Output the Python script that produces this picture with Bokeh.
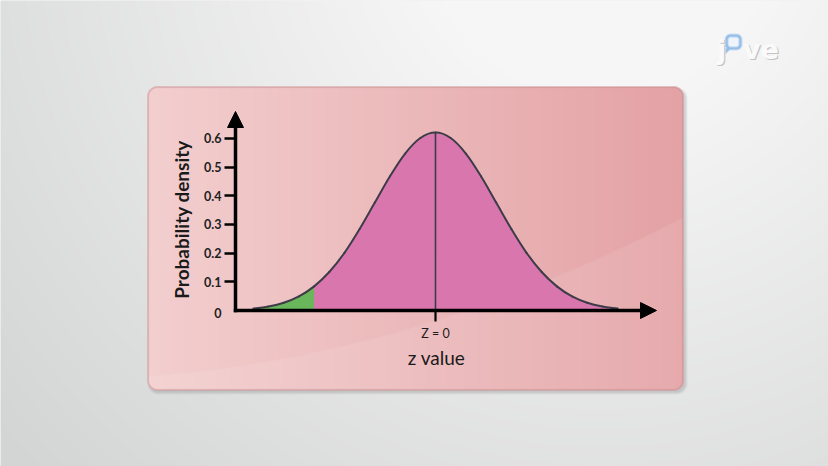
import numpy as np
from bokeh.plotting import figure
from bokeh.models import Range1d, FixedTicker, Arrow, NormalHead
from bokeh.core.properties import value
from bokeh.embed import file_html
from bokeh.resources import INLINE

# ---- data -------------------------------------------------------------
z_values = [-3.0, -2.75, -2.5, -2.25, -2.0, -1.75, -1.5, -1.25, -1.0, -0.75, -0.5, -0.25,
            0.0, 0.25, 0.5, 0.75, 1.0, 1.25, 1.5, 1.75, 2.0, 2.25, 2.5, 2.75, 3.0]
density = [0.007, 0.014, 0.027, 0.049, 0.084, 0.134, 0.201, 0.284, 0.376, 0.468, 0.547, 0.601,
           0.620, 0.601, 0.547, 0.468, 0.376, 0.284, 0.201, 0.134, 0.084, 0.049, 0.027, 0.014, 0.007]
tail_end = -2.0          # the shaded left tail runs up to this z
mean_z = 0.0

y_ticks = [0.0, 0.1, 0.2, 0.3, 0.4, 0.5, 0.6]
y_tick_labels = ["0", "0.1", "0.2", "0.3", "0.4", "0.5", "0.6"]
x_ticks = [0.0]
x_tick_labels = ["Z = 0"]
x_title = "z value"
y_title = "Probability density"

# ---- canvas <-> data mapping -----------------------------------------
W, H = 828, 466
ZERO_X_PX, PX_PER_Z = 435.0, 60.7
ZERO_Y_PX, PX_PER_D = 310.0, 287.0


def px2x(px):
    return (px - ZERO_X_PX) / PX_PER_Z


def px2y(py):
    return (ZERO_Y_PX - py) / PX_PER_D


x_range = Range1d(px2x(0), px2x(W))
y_range = Range1d(px2y(H), px2y(0))

# ---- backdrop: grey gradient + pink rounded card -----------------------
yy, xx = np.mgrid[0:H, 0:W].astype(float) + 0.5


def rrect_sd(x0, y0, x1, y1, r):
    cx, cy = (x0 + x1) / 2, (y0 + y1) / 2
    hx, hy = (x1 - x0) / 2 - r, (y1 - y0) / 2 - r
    qx, qy = np.abs(xx - cx) - hx, np.abs(yy - cy) - hy
    outside = np.hypot(np.maximum(qx, 0), np.maximum(qy, 0))
    return outside + np.minimum(np.maximum(qx, qy), 0) - r


def mix(a, b, t):
    t = t[..., None]
    return a * (1 - t) + b * t


d = np.hypot(xx - 600, yy + 80)
t = np.clip((d - 180) / 620, 0, 1)
rgb = mix(np.array([246.0, 246, 246]), np.array([211.0, 212, 212]), t)

# soft shadow under the card
sd_s = rrect_sd(148, 88, 686, 393, 10)
a_s = np.clip((1.5 - sd_s) / 3.0, 0, 1) * 0.35
rgb = mix(rgb, np.array([140.0, 140, 140]), a_s)

# card body with a left-to-right gradient
sd_c = rrect_sd(147, 86, 683, 390, 10)
tc = np.clip((xx - 147) / 536, 0, 1)
card = mix(np.full((H, W, 3), 0.0) + np.array([243.0, 207, 207]),
           np.array([228.0, 162, 165]), tc)
# faint glossy sweep over the lower part
gloss_x = np.array([147.0, 317, 528, 660, 690])
gloss_y = np.array([378.0, 343, 293, 233, 205])
coef = np.polyfit(gloss_x, gloss_y, 2)
gy = np.polyval(coef, xx)
g = np.clip((yy - gy) / 1.5, 0, 1) * 0.09
card = mix(card, np.array([255.0, 255, 255]), g)
a_c = np.clip(0.5 - sd_c, 0, 1)
rgb = mix(rgb, card, a_c)
a_b = np.clip(0.5 - sd_c, 0, 1) * np.clip(sd_c + 1.6, 0, 1) * 0.8
rgb = mix(rgb, np.array([198.0, 138, 142]), a_b)

# speech-bubble "o" of the logo: pale inside, blue rim, small tail
sd_o = rrect_sd(725, 34, 741, 49, 5)
inside = np.clip(0.5 - sd_o, 0, 1)
rgb = mix(rgb, np.array([238.0, 244, 251]), inside * 0.9)
rim = np.clip(2.0 - np.abs(sd_o + 1.1), 0, 1)
tail = ((xx > 725) & (xx < 730) & (yy > 48) & (yy < 53.5)
        & ((xx - 725) < (53.5 - yy) * 0.9)).astype(float)
rgb = mix(rgb, np.array([140.0, 185, 232]), np.maximum(rim, tail) * 0.9)

rgba = np.dstack([np.clip(rgb, 0, 255).astype(np.uint8),
                  np.full((H, W), 255, dtype=np.uint8)])
backdrop = rgba.view(np.uint32).reshape(H, W)[::-1].copy()

# ---- figure ------------------------------------------------------------
p = figure(width=W, height=H, x_range=x_range, y_range=y_range,
           output_backend="svg", toolbar_location=None, min_border=0,
           outline_line_color=None)
p.grid.visible = False
p.background_fill_color = "#e6e6e6"
p.border_fill_color = "#e6e6e6"

p.image_rgba(image=[backdrop], x=x_range.start, y=y_range.start,
             dw=x_range.end - x_range.start, dh=y_range.end - y_range.start)

# logo letters, light with a grey edge
logo_font = value("DejaVu Sans")
for txt, lx in (("j", 716.5), ("ve", 742.5)):
    for dx, dy, col in ((1.2, 1.2, "#c4c4c4"), (0, 0, "#fafafa")):
        p.text(x=[px2x(lx + dx)], y=[px2y(48.5 + dy)], text=[txt], text_font=logo_font,
               text_font_size="27px", text_font_style="bold", text_color=col,
               text_baseline="alphabetic")

# ---- distribution ------------------------------------------------------
z = np.array(z_values)
dens = np.array(density)
p.varea(x=z, y1=np.zeros_like(dens), y2=dens, fill_color="#d976ae")
tail_mask = z <= tail_end
p.varea(x=z[tail_mask], y1=np.zeros(tail_mask.sum()), y2=dens[tail_mask],
        fill_color="#6ab65a")

# smooth outline through the readings (Catmull-Rom as cubic Bezier pieces)
zp = np.concatenate([[2 * z[0] - z[1]], z, [2 * z[-1] - z[-2]]])
dp = np.concatenate([[2 * dens[0] - dens[1]], dens, [2 * dens[-1] - dens[-2]]])
i = np.arange(1, len(zp) - 2)
p.bezier(x0=zp[i], y0=dp[i], x1=zp[i + 1], y1=dp[i + 1],
         cx0=zp[i] + (zp[i + 1] - zp[i - 1]) / 6, cy0=dp[i] + (dp[i + 1] - dp[i - 1]) / 6,
         cx1=zp[i + 1] - (zp[i + 2] - zp[i]) / 6, cy1=dp[i + 1] - (dp[i + 2] - dp[i]) / 6,
         line_color="#3d3c48", line_width=2, line_cap="round")

peak = dens[np.argmin(np.abs(z - mean_z))]
p.segment(x0=[mean_z], y0=[0], x1=[mean_z], y1=[peak], line_color="#3d3c48", line_width=1.6)

# ---- axes --------------------------------------------------------------
axis_z = px2x(235)
label_font = value("Lato")

yax = p.yaxis[0]
yax.fixed_location = axis_z
yax.ticker = FixedTicker(ticks=y_ticks[1:])
yax.major_label_overrides = {t: s for t, s in zip(y_ticks[1:], y_tick_labels[1:])}
yax.axis_line_color = None
yax.major_tick_out = 11
yax.major_tick_in = 0
yax.major_tick_line_width = 2.5
yax.major_tick_line_color = "black"
yax.minor_tick_line_color = None
yax.major_label_standoff = 3
yax.major_label_text_font = "Lato"
yax.major_label_text_font_size = "12.5px"
yax.major_label_text_font_style = "bold"
yax.major_label_text_color = "#1e1e1e"

xax = p.xaxis[0]
xax.fixed_location = 0
xax.ticker = FixedTicker(ticks=x_ticks)
xax.major_label_overrides = {t: s for t, s in zip(x_ticks, x_tick_labels)}
xax.axis_line_color = None
xax.major_tick_out = 11
xax.major_tick_in = 0
xax.major_tick_line_width = 2.2
xax.major_tick_line_color = "black"
xax.minor_tick_line_color = None
xax.major_label_standoff = 4
xax.major_label_text_font = "Lato"
xax.major_label_text_font_size = "12.5px"
xax.major_label_text_color = "#1e1e1e"

# zero label of the density axis sits at the corner, without a tick
p.text(x=[axis_z], y=y_ticks[:1], text=y_tick_labels[:1], x_offset=-14, y_offset=2,
       text_font=label_font, text_font_size="12.5px", text_font_style="bold",
       text_color="#1e1e1e", text_align="right", text_baseline="middle")

# axis lines with arrow heads
p.add_layout(Arrow(x_start=axis_z, y_start=px2y(311.7), x_end=axis_z, y_end=px2y(111),
                   line_width=3.5, line_color="black",
                   end=NormalHead(size=16, fill_color="black", line_color="black", line_width=1)))
p.add_layout(Arrow(x_start=px2x(233.3), y_start=0, x_end=px2x(656), y_end=0,
                   line_width=3.5, line_color="black",
                   end=NormalHead(size=16, fill_color="black", line_color="black", line_width=1)))

# axis titles
p.text(x=[px2x(436)], y=[px2y(357)], text=[x_title], text_font=label_font,
       text_font_size="19px", text_color="#1a1a1a", text_align="center",
       text_baseline="middle")
p.text(x=[px2x(181)], y=[px2y(219)], text=[y_title], text_font=label_font,
       text_font_size="19px", text_font_style="bold", text_color="#1a1a1a",
       text_align="center", text_baseline="middle", angle=np.pi / 2)

open("out.html", "w").write(file_html(p, INLINE))
